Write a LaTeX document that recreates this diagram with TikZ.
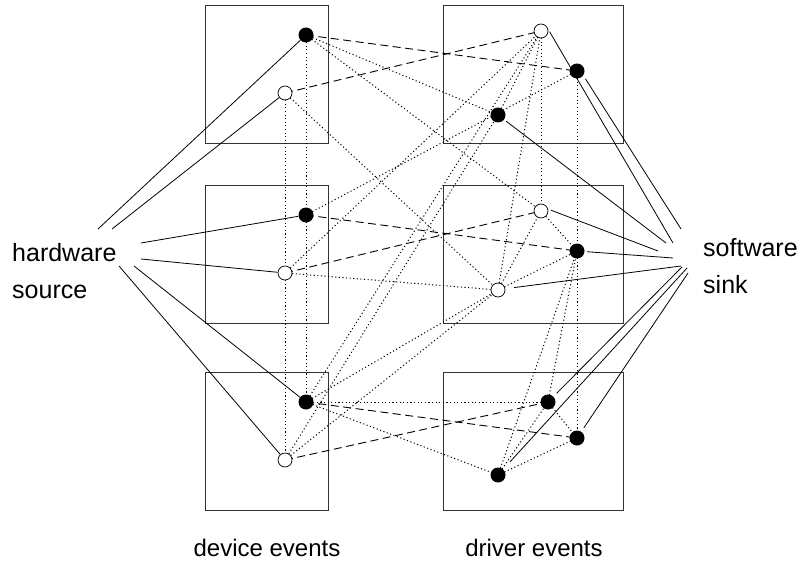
\documentclass[tikz,border=0pt]{standalone}
\usepackage{fontspec}
\setmainfont{Liberation Sans}
\begin{document}
\begin{tikzpicture}[x=1pt,y=-1pt,
  box/.style={draw=black!80, line width=0.9pt},
  fnode/.style={circle, fill=black, inner sep=0pt, minimum size=15pt},
  onode/.style={circle, draw=black, fill=white, line width=0.7pt, inner sep=0pt, minimum size=14pt},
  solidline/.style={line width=0.8pt},
  dotline/.style={line width=1pt, dash pattern=on 1.1pt off 2.5pt},
  dashline/.style={line width=0.9pt, dash pattern=on 8pt off 4.5pt},
  lbl/.style={font=\fontsize{25}{37}\selectfont, inner sep=0pt},
  blbl/.style={font=\fontsize{24}{30}\selectfont, inner sep=0pt}]
\useasboundingbox (0,0) rectangle (803,575);
% boxes
\draw[box] (205,5) rectangle (328,143);
\draw[box] (205,185) rectangle (328,323);
\draw[box] (205,372) rectangle (328,510);
\draw[box] (443,5) rectangle (623,143);
\draw[box] (443,185) rectangle (623,323);
\draw[box] (443,372) rectangle (623,510);
% centres
\coordinate (A1) at (306,35);  \coordinate (B1) at (285,93);
\coordinate (A2) at (306,215); \coordinate (B2) at (285,273);
\coordinate (A3) at (306,402); \coordinate (B3) at (285,460);
\coordinate (C1) at (541,31);  \coordinate (D1) at (577,71);  \coordinate (E1) at (498,115);
\coordinate (C2) at (541,211); \coordinate (D2) at (577,251); \coordinate (E2) at (498,290);
\coordinate (F3) at (548,402); \coordinate (D3) at (577,438); \coordinate (E3) at (498,475);
% dotted connectors
\foreach \p/\q in {A1/A3,B1/B3,C1/C2,D1/D3,
  A1/E1,A1/C2,B1/E2,A2/D1,B2/C1,B2/E2,A3/C1,A3/E2,A3/F3,A3/E3,B3/E1,B3/E2,
  E1/C1,E2/C1,E2/C2,E2/D2,C2/D2,E3/D2,F3/D2,E3/D3,F3/D3,E3/F3}
  \draw[dotline] (\p) -- (\q);
% dashed connectors
\foreach \p/\q in {A1/D1,B1/C1,A2/D2,B2/C2,A3/D3,B3/F3}
  \draw[dashline] (\p) -- (\q);
% circles
\node[fnode] (nA1) at (A1) {}; \node[onode] (nB1) at (B1) {};
\node[fnode] (nA2) at (A2) {}; \node[onode] (nB2) at (B2) {};
\node[fnode] (nA3) at (A3) {}; \node[onode] (nB3) at (B3) {};
\node[onode] (nC1) at (C1) {}; \node[fnode] (nD1) at (D1) {}; \node[fnode] (nE1) at (E1) {};
\node[onode] (nC2) at (C2) {}; \node[fnode] (nD2) at (D2) {}; \node[onode] (nE2) at (E2) {};
\node[fnode] (nF3) at (F3) {}; \node[fnode] (nD3) at (D3) {}; \node[fnode] (nE3) at (E3) {};
% labels
\node[lbl, anchor=base west] (hw) at (12,261) {hardware};
\node[lbl, anchor=base west] (src) at (12,298) {source};
\node[lbl, anchor=base west] (sw) at (703,256) {software};
\node[lbl, anchor=base west] (sk) at (703,293) {sink};
\node[blbl, anchor=base] (dev) at (267,556) {device events};
\node[blbl, anchor=base] (drv) at (534,556) {driver events};
% fan points
\coordinate (s1) at (98,229);  \coordinate (s2) at (112,229);
\coordinate (s3) at (141,243); \coordinate (s4) at (141,259);
\coordinate (s5) at (134,266); \coordinate (s6) at (119,266);
\coordinate (k1) at (681,229); \coordinate (k2) at (673,243); \coordinate (k3) at (666,243);
\coordinate (k4) at (658,251); \coordinate (k5) at (673,258); \coordinate (k6) at (681,266);
\coordinate (k7) at (682,267); \coordinate (k8) at (687,268); \coordinate (k9) at (688,273);
% solid connectors
\draw[solidline] (s1) -- (nA1);
\draw[solidline] (s2) -- (nB1);
\draw[solidline] (s3) -- (nA2);
\draw[solidline] (s4) -- (nB2);
\draw[solidline] (s5) -- (nA3);
\draw[solidline] (s6) -- (nB3);
\draw[solidline, shorten <=3pt] (nC1.15) -- (k2);
\draw[solidline, shorten <=4pt] (nD1.-35) -- (k1);
\draw[solidline, shorten <=2.5pt] (nE1) -- (k3);
\draw[solidline, shorten <=3pt] (nC2.15) -- (k4);
\draw[solidline, shorten <=2.5pt] (nD2) -- (k5);
\draw[solidline, shorten <=9pt] (nE2.10) -- (k6);
\draw[solidline, shorten <=4.5pt] (nF3) -- (k7);
\draw[solidline, shorten <=10pt] (nE3) -- (k8);
\draw[solidline, shorten <=4.5pt] (nD3) -- (k9);
\end{tikzpicture}
\end{document}
